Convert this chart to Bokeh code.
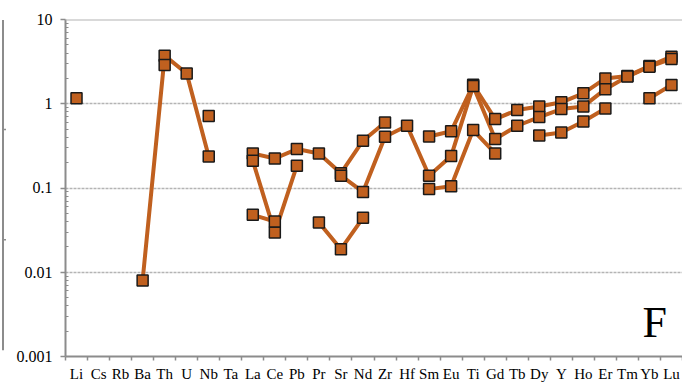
import numpy as np
from bokeh.plotting import figure
from bokeh.layouts import row, column
from bokeh.models import FixedTicker, Label, ColumnDataSource, Span
from bokeh.core.properties import value
from bokeh.embed import file_html
from bokeh.resources import INLINE

# Trace elements along the x axis
elements = ["Li", "Cs", "Rb", "Ba", "Th", "U", "Nb", "Ta", "La", "Ce", "Pb", "Pr",
            "Sr", "Nd", "Zr", "Hf", "Sm", "Eu", "Ti", "Gd", "Tb", "Dy", "Y", "Ho",
            "Er", "Tm", "Yb", "Lu"]

# Normalised concentrations per sample (None = not determined)
sample_a = [None, None, None, 0.008, 3.72, 2.29, 0.237, None, 0.257, 0.224, 0.29, 0.257,
            0.15, 0.364, 0.60, None, 0.409, 0.471, 1.68, 0.658, 0.842, 0.929, 1.04, 1.33,
            2.0, 2.13, 2.8, 3.62]
sample_b = [None, None, None, None, 2.88, None, 0.714, None, 0.21, 0.0296, 0.184, None,
            0.14, 0.0898, 0.406, 0.548, 0.14, 0.239, 1.62, 0.381, 0.548, 0.695, 0.865, 0.929,
            1.49, 2.1, 2.75, 3.4]
sample_c = [1.16, None, None, None, None, None, None, None, 0.048, 0.04, None, 0.0389,
            0.0188, 0.0443, None, None, 0.097, 0.105, 0.487, 0.257, None, 0.42, 0.456, 0.616,
            0.88, None, 1.16, 1.67]
samples = [sample_a, sample_b, sample_c]

# y axis decades and their labels
y_major = [0.001, 0.01, 0.1, 1, 10]
y_labels = ["0.001", "0.01", "0.1", "1", "10"]

ORANGE = "#C0601F"
AXIS_GREY = "#8c8c8c"
FONT = "Liberation Serif"

xs = list(range(len(elements)))
x_range_ = (-0.5, len(elements) - 0.5)

# ---------------- main plot ----------------
p = figure(width=627, height=362, x_range=x_range_,
           y_range=(y_major[0], y_major[-1]), y_axis_type="log",
           output_backend="svg", toolbar_location=None,
           min_border_left=10, min_border_right=0, min_border_top=19, min_border_bottom=6)
p.outline_line_color = None
p.background_fill_color = "white"
p.border_fill_color = "white"

p.xgrid.visible = False
p.ygrid.grid_line_color = "#b4b4b4"
p.ygrid.grid_line_dash = "3 1"
p.ygrid.grid_line_width = 1.5
p.add_layout(Span(location=y_major[-1], dimension="width",
                  line_color="#b4b4b4", line_width=2))

xaxis = p.below[0]
yaxis = p.left[0]

# x axis: small ticks between categories only
xaxis.ticker = FixedTicker(ticks=[], minor_ticks=[i - 0.5 for i in range(len(elements) + 1)])
xaxis.major_tick_out = 0
xaxis.major_tick_in = 0
xaxis.minor_tick_out = 4
xaxis.minor_tick_in = 0
xaxis.minor_tick_line_color = AXIS_GREY
xaxis.minor_tick_line_width = 1.5
xaxis.major_label_standoff = 0
xaxis.major_label_text_color = None

# y axis: decades outward, short inward minor ticks (labels drawn alongside)
minor = [k * d for d in y_major[:-1] for k in range(2, 10)]
yaxis.ticker = FixedTicker(ticks=y_major, minor_ticks=minor)
yaxis.major_tick_out = 5
yaxis.major_tick_in = 0
yaxis.minor_tick_in = 3
yaxis.minor_tick_out = 0
yaxis.major_tick_line_color = AXIS_GREY
yaxis.minor_tick_line_color = AXIS_GREY
yaxis.major_tick_line_width = 1.5
yaxis.minor_tick_line_width = 1.2
yaxis.major_label_standoff = 0
yaxis.major_label_text_font_size = "1px"
yaxis.major_label_text_color = None

for ax in (xaxis, yaxis):
    ax.axis_line_color = AXIS_GREY
    ax.axis_line_width = 2

sources = [ColumnDataSource(dict(x=xs, y=np.array(s, dtype=float))) for s in samples]

# connecting lines (gaps where a value is missing)
for src in sources:
    p.line("x", "y", source=src, line_color=ORANGE, line_width=4)

# square markers on top
for src in sources:
    p.scatter("x", "y", source=src, marker="square", size=11,
              fill_color=ORANGE, line_color="#1a1a1a", line_width=1.5)

p.add_layout(Label(x=25.68, y=0.0025, text="F", text_font=FONT,
                   text_font_size="44px", text_color="black", text_baseline="alphabetic"))

# ---------------- element names under the x axis ----------------
xlab = figure(width=627, height=22, x_range=x_range_, y_range=(0, 1),
              output_backend="svg", toolbar_location=None,
              min_border_left=10, min_border_right=0, min_border_top=0, min_border_bottom=0)
xlab.axis.visible = False
xlab.grid.visible = False
xlab.outline_line_color = None
xlab.text(x=xs, y=[0.5] * len(xs), text=elements, text_align="center",
          text_baseline="middle", text_font=value(FONT), text_font_size="15px",
          text_color="black")

# ---------------- decade labels left of the y axis ----------------
ylab = figure(width=47, height=384, x_range=(0, 47), y_range=(10 ** -3.25, 10 ** 1.2),
              y_axis_type="log", output_backend="svg", toolbar_location=None,
              min_border_left=0, min_border_right=0, min_border_top=2, min_border_bottom=7)
ylab.axis.visible = False
ylab.grid.visible = False
ylab.outline_line_color = None
ylab.text(x=[44] * len(y_major), y=y_major, text=y_labels, text_align="right",
          text_baseline="middle", text_font=value(FONT), text_font_size="16px",
          text_color="black")

# ---------------- edge of the neighbouring panel on the left ----------------
edge = figure(width=8, height=384, x_range=(0, 8), y_range=(0, 384),
              output_backend="svg", toolbar_location=None, min_border=0)
edge.axis.visible = False
edge.grid.visible = False
edge.outline_line_color = None
edge_x = 2.5
edge_top, edge_bottom = 366, 28
edge_ticks = [254, 141]
edge.segment(x0=[edge_x], y0=[edge_bottom], x1=[edge_x], y1=[edge_top],
             line_color=AXIS_GREY, line_width=2)
edge.segment(x0=[edge_x] * len(edge_ticks), y0=edge_ticks,
             x1=[edge_x + 3] * len(edge_ticks), y1=edge_ticks,
             line_color=AXIS_GREY, line_width=1.5)

layout = row(edge, ylab, column(p, xlab, spacing=0), spacing=0)

open("out.html", "w").write(file_html(layout, INLINE))
